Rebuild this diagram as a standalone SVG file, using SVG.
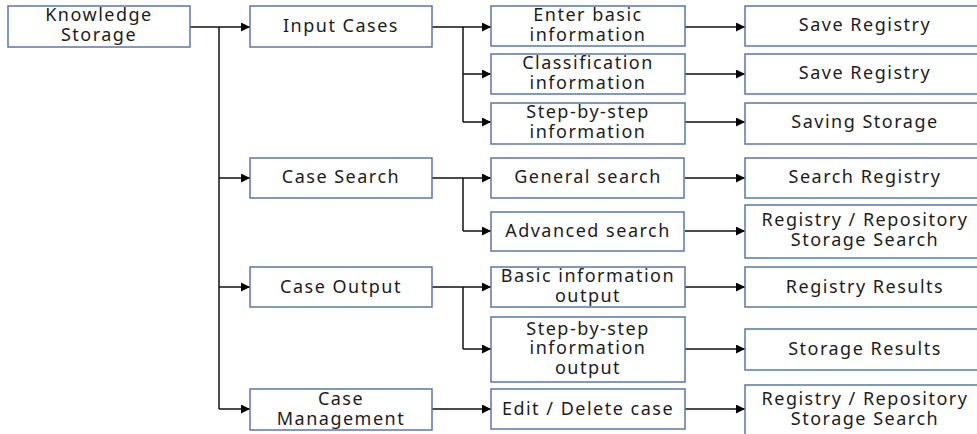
<svg xmlns="http://www.w3.org/2000/svg" width="977" height="434" viewBox="0 0 977 434">
  <defs>
    <marker id="arrow" viewBox="0 0 10 10" refX="10" refY="5" markerWidth="10" markerHeight="9" markerUnits="userSpaceOnUse" orient="auto">
      <path d="M0,0 L10,5 L0,10 Z" fill="#000"/>
    </marker>
    <style>
      .box { fill: #fff; stroke: #5a78a8; stroke-width: 1.5; }
      .lbl { font-family: "Noto Sans", "Open Sans", sans-serif; font-size: 18px; fill: #1c1c1c; text-anchor: middle; letter-spacing: 1.5px; }
      .wire { fill: none; stroke: #111; stroke-width: 1.5; }
      .arr { fill: none; stroke: #111; stroke-width: 1.5; marker-end: url(#arrow); }
    </style>
  </defs>
  <rect width="977" height="434" fill="#fff"/>

  <!-- connectors -->
  <g id="connectors">
    <!-- root trunk -->
    <path class="arr" d="M190,27 H250"/>
    <path class="wire" d="M219,27 V409"/>
    <path class="arr" d="M219,178 H250"/>
    <path class="arr" d="M219,287 H250"/>
    <path class="arr" d="M219,409 H250"/>
    <!-- Input Cases branch -->
    <path class="arr" d="M432,27 H491"/>
    <path class="wire" d="M463,27 V122"/>
    <path class="arr" d="M463,74 H491"/>
    <path class="arr" d="M463,122 H491"/>
    <!-- Case Search branch -->
    <path class="arr" d="M432,178 H491"/>
    <path class="wire" d="M463,178 V231"/>
    <path class="arr" d="M463,231 H491"/>
    <!-- Case Output branch -->
    <path class="arr" d="M432,287 H491"/>
    <path class="wire" d="M463,287 V349"/>
    <path class="arr" d="M463,349 H491"/>
    <!-- Case Management -->
    <path class="arr" d="M432,409 H491"/>
    <!-- third level -->
    <path class="arr" d="M685,27 H745"/>
    <path class="arr" d="M685,74 H745"/>
    <path class="arr" d="M685,122 H745"/>
    <path class="arr" d="M685,178 H745"/>
    <path class="arr" d="M685,231 H745"/>
    <path class="arr" d="M685,287 H745"/>
    <path class="arr" d="M685,349 H745"/>
    <path class="arr" d="M685,409 H745"/>
  </g>

  <!-- level 0 -->
  <g id="knowledge-storage">
    <rect class="box" x="8" y="6" width="182" height="41"/>
    <text class="lbl" x="99" y="21">Knowledge</text>
    <text class="lbl" x="99" y="41">Storage</text>
  </g>

  <!-- level 1 -->
  <g id="input-cases">
    <rect class="box" x="250" y="6" width="182" height="41"/>
    <text class="lbl" x="341" y="32">Input Cases</text>
  </g>
  <g id="case-search">
    <rect class="box" x="250" y="158" width="182" height="40"/>
    <text class="lbl" x="341" y="183">Case Search</text>
  </g>
  <g id="case-output">
    <rect class="box" x="250" y="267" width="182" height="40"/>
    <text class="lbl" x="341" y="293">Case Output</text>
  </g>
  <g id="case-management">
    <rect class="box" x="250" y="389" width="182" height="41"/>
    <text class="lbl" x="341" y="405">Case</text>
    <text class="lbl" x="341" y="425">Management</text>
  </g>

  <!-- level 2 -->
  <g id="enter-basic">
    <rect class="box" x="491" y="6" width="194" height="40"/>
    <text class="lbl" x="588" y="21">Enter basic</text>
    <text class="lbl" x="588" y="41">information</text>
  </g>
  <g id="classification">
    <rect class="box" x="491" y="54" width="194" height="40"/>
    <text class="lbl" x="588" y="69">Classification</text>
    <text class="lbl" x="588" y="89">information</text>
  </g>
  <g id="step-input">
    <rect class="box" x="491" y="103" width="194" height="41"/>
    <text class="lbl" x="588" y="118">Step-by-step</text>
    <text class="lbl" x="588" y="138">information</text>
  </g>
  <g id="general-search">
    <rect class="box" x="491" y="158" width="193" height="40"/>
    <text class="lbl" x="588" y="183">General search</text>
  </g>
  <g id="advanced-search">
    <rect class="box" x="491" y="212" width="193" height="39"/>
    <text class="lbl" x="588" y="237">Advanced search</text>
  </g>
  <g id="basic-output">
    <rect class="box" x="491" y="267" width="194" height="40"/>
    <text class="lbl" x="588" y="282">Basic information</text>
    <text class="lbl" x="588" y="302">output</text>
  </g>
  <g id="step-output">
    <rect class="box" x="491" y="317" width="194" height="65"/>
    <text class="lbl" x="588" y="335">Step-by-step</text>
    <text class="lbl" x="588" y="354">information</text>
    <text class="lbl" x="588" y="374">output</text>
  </g>
  <g id="edit-delete">
    <rect class="box" x="491" y="389" width="194" height="40"/>
    <text class="lbl" x="588" y="415">Edit / Delete case</text>
  </g>

  <!-- level 3 -->
  <g id="save-registry-1">
    <rect class="box" x="745" y="6" width="240" height="40"/>
    <text class="lbl" x="865" y="31">Save Registry</text>
  </g>
  <g id="save-registry-2">
    <rect class="box" x="745" y="54" width="240" height="40"/>
    <text class="lbl" x="865" y="79">Save Registry</text>
  </g>
  <g id="saving-storage">
    <rect class="box" x="745" y="103" width="240" height="41"/>
    <text class="lbl" x="865" y="128">Saving Storage</text>
  </g>
  <g id="search-registry">
    <rect class="box" x="745" y="158" width="240" height="40"/>
    <text class="lbl" x="865" y="183">Search Registry</text>
  </g>
  <g id="repo-search-1">
    <rect class="box" x="745" y="205" width="240" height="53"/>
    <text class="lbl" x="865" y="226">Registry / Repository</text>
    <text class="lbl" x="865" y="246">Storage Search</text>
  </g>
  <g id="registry-results">
    <rect class="box" x="745" y="267" width="240" height="40"/>
    <text class="lbl" x="865" y="293">Registry Results</text>
  </g>
  <g id="storage-results">
    <rect class="box" x="745" y="329" width="240" height="41"/>
    <text class="lbl" x="865" y="355">Storage Results</text>
  </g>
  <g id="repo-search-2">
    <rect class="box" x="745" y="385" width="240" height="60"/>
    <text class="lbl" x="865" y="405">Registry / Repository</text>
    <text class="lbl" x="865" y="425">Storage Search</text>
  </g>
</svg>
